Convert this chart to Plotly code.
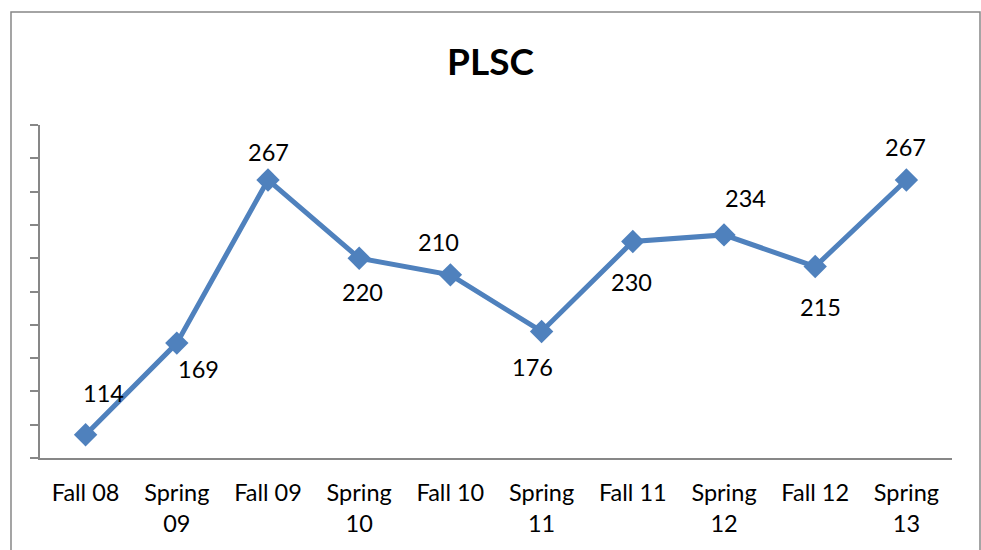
import plotly.graph_objects as go

# Enrollment by term
terms = ["Fall 08", "Spring<br>09", "Fall 09", "Spring<br>10", "Fall 10",
         "Spring<br>11", "Fall 11", "Spring<br>12", "Fall 12", "Spring<br>13"]
counts = [114, 169, 267, 220, 210, 176, 230, 234, 215, 267]

# Pixel offsets of each value label from its point
label_dx = [18, 22, 0, 3, -12, -9, -1, 21, 5, -1]
label_dy = [42, -26, 28, -34, 33, -36, -40, 37, -40, 33]

blue = "#4f81bd"
grey = "#878787"
font = "Lato, Carlito, Calibri, sans-serif"

fig = go.Figure()
fig.add_trace(go.Scatter(
    x=list(range(len(terms))), y=counts, mode="lines+markers",
    line=dict(color=blue, width=5),
    marker=dict(symbol="diamond", size=18, color=blue),
    hoverinfo="skip", showlegend=False,
))

for i, (v, dx, dy) in enumerate(zip(counts, label_dx, label_dy)):
    fig.add_annotation(x=i, y=v, text=str(v), showarrow=False,
                       xshift=dx, yshift=dy,
                       font=dict(family=font, size=23.5, color="black"))

# Chart area frame (left, top, right edges)
fig.add_shape(type="path", xref="paper", yref="paper",
              path="M -0.0318 -0.35 L -0.0318 1.339 L 1.0307 1.339 L 1.0307 -0.35",
              line=dict(color=grey, width=1.5))

fig.update_layout(
    width=981, height=550,
    margin=dict(l=40, r=29, t=125, b=92),
    paper_bgcolor="white", plot_bgcolor="white",
    title=dict(text="<b>PLSC</b>", x=0.5, xanchor="center",
               y=1 - 62 / 550, yanchor="middle",
               font=dict(family=font, size=37, color="black")),
    font=dict(family=font, size=23.5, color="black"),
    xaxis=dict(
        tickmode="array", tickvals=list(range(len(terms))), ticktext=terms,
        range=[-0.5, len(terms) - 0.5], showgrid=False, zeroline=False,
        showline=True, linecolor=grey, linewidth=1.5, ticks="",
        ticklabelstandoff=13,
        tickfont=dict(family=font, size=23.5, color="black"),
    ),
    yaxis=dict(
        range=[100, 300], dtick=20, tick0=100, showgrid=False, zeroline=False,
        showline=True, linecolor=grey, linewidth=1.5,
        ticks="outside", ticklen=8, tickcolor=grey, tickwidth=1.5,
        showticklabels=False,
    ),
)

fig.write_html("out.html")
